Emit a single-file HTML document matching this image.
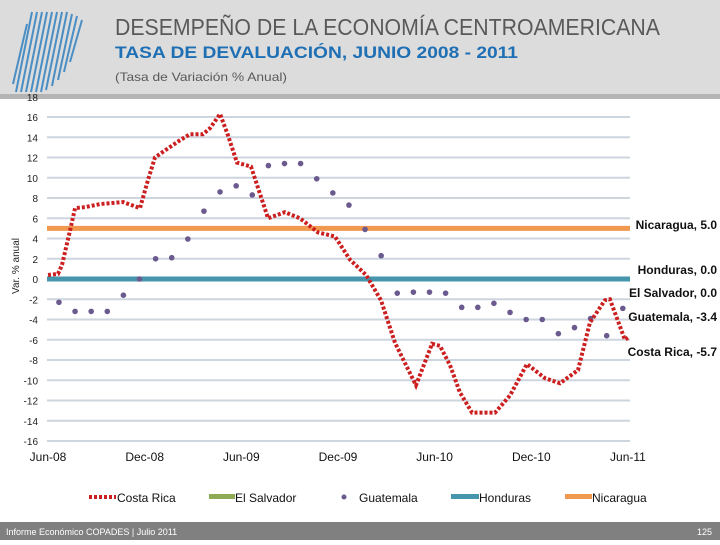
<!DOCTYPE html>
<html><head><meta charset="utf-8"><style>
body{margin:0;width:720px;height:540px;overflow:hidden;background:#fff;font-family:"Liberation Sans",sans-serif}
</style></head><body>
<svg width="720" height="540" xmlns="http://www.w3.org/2000/svg">
<rect x="0" y="0" width="720" height="95" fill="#dcdcdc"/>
<rect x="0" y="94" width="720" height="5" fill="#b4b4b4"/>
<g stroke="#4a8ec4" stroke-width="2">
<line x1="32" y1="12" x2="16" y2="92"/><line x1="37" y1="12" x2="21" y2="92"/><line x1="42" y1="12" x2="26" y2="92"/><line x1="47" y1="12" x2="31" y2="92"/><line x1="52" y1="12" x2="36" y2="92"/><line x1="57" y1="12" x2="41" y2="92"/><line x1="62" y1="12" x2="46" y2="90"/><line x1="67" y1="12" x2="52" y2="86"/><line x1="72" y1="14" x2="58" y2="80"/><line x1="77" y1="16" x2="64" y2="72"/><line x1="82" y1="20" x2="70" y2="62"/><line x1="27" y1="24" x2="13" y2="84"/>
</g>
<text x="115" y="35" font-size="23" fill="#595959" textLength="545" lengthAdjust="spacingAndGlyphs">DESEMPEÑO DE LA ECONOMÍA CENTROAMERICANA</text>
<text x="115" y="58" font-size="17" font-weight="bold" fill="#1f6fb4" textLength="403" lengthAdjust="spacingAndGlyphs">TASA DE DEVALUACIÓN, JUNIO 2008 - 2011</text>
<text x="115" y="81" font-size="12" fill="#595959" textLength="172" lengthAdjust="spacingAndGlyphs">(Tasa de Variación % Anual)</text>
<g id="grid"></g><g id="series"></g><g id="labels"></g>
<text transform="translate(19,266) rotate(-90)" text-anchor="middle" font-size="10" fill="#222">Var. % anual</text>
<g font-size="12" fill="#111">
<g><line x1="89" y1="497" x2="116" y2="497" stroke="#cc1f1f" stroke-width="4" stroke-dasharray="3,2"/><text x="117" y="502">Costa Rica</text></g>
<g><rect x="209" y="494" width="26" height="5" fill="#8faa55"/><text x="235" y="502">El Salvador</text></g>
<g><circle cx="344" cy="497" r="2.5" fill="#6a5a8e"/><text x="359" y="502">Guatemala</text></g>
<g><rect x="451" y="494" width="28" height="5" fill="#4596ad"/><text x="479" y="502">Honduras</text></g>
<g><rect x="565" y="494" width="27" height="5" fill="#f0994f"/><text x="592" y="502">Nicaragua</text></g>
</g>
<rect x="0" y="522" width="720" height="18" fill="#808080"/>
<text x="6" y="535" font-size="9" fill="#fff">Informe Económico COPADES  |  Julio 2011</text>
<text x="712" y="535" font-size="9" fill="#fff" text-anchor="end">125</text>
</svg>
<script>
const yTicks=[16,14,12,10,8,6,4,2,0,-2,-4,-6,-8,-10,-12,-14,-16];
const xTickLabels=["Jun-08","Dec-08","Jun-09","Dec-09","Jun-10","Dec-10","Jun-11"];
const xTickMonths=[0,6,12,18,24,30,36];
const crMonths=[0,0.62,0.87,1.37,1.68,2.3,3.23,4.66,5.71,6.21,6.64,7.26,8.19,8.81,9.62,10.06,10.68,11.17,11.73,12.6,13.66,14.71,15.64,16.76,17.81,18.75,19.74,20.67,21.54,22.84,23.84,24.33,24.95,25.57,26.32,27.75,28.68,29.73,30.85,31.78,32.9,33.64,34.57,34.88,35.81,36.1];
const costaRica=[0.4,0.5,1.4,4.8,7.0,7.1,7.4,7.6,7.0,9.8,12.0,12.7,13.7,14.3,14.3,14.9,16.3,14.2,11.5,11.1,6.0,6.6,6.0,4.6,4.2,1.9,0.4,-2.1,-6.3,-10.5,-6.4,-6.6,-8.5,-11.2,-13.2,-13.2,-11.5,-8.4,-9.8,-10.3,-9.0,-4.3,-2.1,-2.0,-6.0,-5.7];
const guatemala=[-2.3,-3.2,-3.2,-3.2,-1.6,0,2.0,2.1,3.95,6.7,8.6,9.2,8.3,11.2,11.4,11.4,9.9,8.5,7.3,4.9,2.3,-1.4,-1.3,-1.3,-1.4,-2.8,-2.8,-2.4,-3.3,-4.0,-4.0,-5.4,-4.8,-3.9,-5.6,-2.9];
const guatemalaStart=0.68;
const nicaragua=5.0, honduras=0.0, elSalvador=0.0;
const endLabels=[["Nicaragua, 5.0",225],["Honduras, 0.0",270],["El Salvador, 0.0",293],["Guatemala, -3.4",317],["Costa Rica, -5.7",352]];
const NS="http://www.w3.org/2000/svg";
const X=m=>48+16.11*m, Y=v=>279-10.125*v, X0=47, X1=630;
function mk(tag,attrs,parent){const e=document.createElementNS(NS,tag);for(const k in attrs)e.setAttribute(k,attrs[k]);parent.appendChild(e);return e;}
const grid=document.getElementById('grid'),ser=document.getElementById('series'),lab=document.getElementById('labels');
const t18=mk('text',{x:38,y:101,'font-size':10,'text-anchor':'end',fill:'#222'},lab);t18.textContent='18';


yTicks.forEach(v=>{
 const l=mk('line',{x1:X0,x2:X1,y1:Y(v),y2:Y(v),stroke:'#cdd5df','stroke-width':2},grid);
 
 
 const t=mk('text',{x:38,y:Y(v)+4,'font-size':10,'text-anchor':'end',fill:'#222'},lab);t.textContent=v;
 
 
});
xTickLabels.forEach((s,i)=>{
 const t=mk('text',{x:X(xTickMonths[i]),y:461,'font-size':12,'text-anchor':'middle',fill:'#111'},lab);t.textContent=s;
 
 
});
const es=mk('line',{x1:X0,x2:X1,y1:Y(elSalvador),y2:Y(elSalvador),stroke:'#8faa55','stroke-width':5},ser);


const ho=mk('line',{x1:X0,x2:X1,y1:Y(honduras),y2:Y(honduras),stroke:'#4596ad','stroke-width':5},ser);


const ni=mk('line',{x1:X0,x2:X1,y1:Y(nicaragua),y2:Y(nicaragua),stroke:'#f0994f','stroke-width':5},ser);


guatemala.forEach((v,i)=>{
 const c=mk('circle',{cx:X(guatemalaStart+i),cy:Y(v),r:2.8,fill:'#6a5a8e'},ser);
 
 
});
const cr=mk('polyline',{points:costaRica.map((v,i)=>X(crMonths[i])+','+Y(v)).join(' '),fill:'none',stroke:'#cc1f1f','stroke-width':4,'stroke-dasharray':'3,2'},ser);


endLabels.forEach(([s,y])=>{
 const t=mk('text',{x:717,y:y+4,'font-size':12,'font-weight':'bold','text-anchor':'end',fill:'#111'},lab);t.textContent=s;
 
 
});
</script>
</body></html>
